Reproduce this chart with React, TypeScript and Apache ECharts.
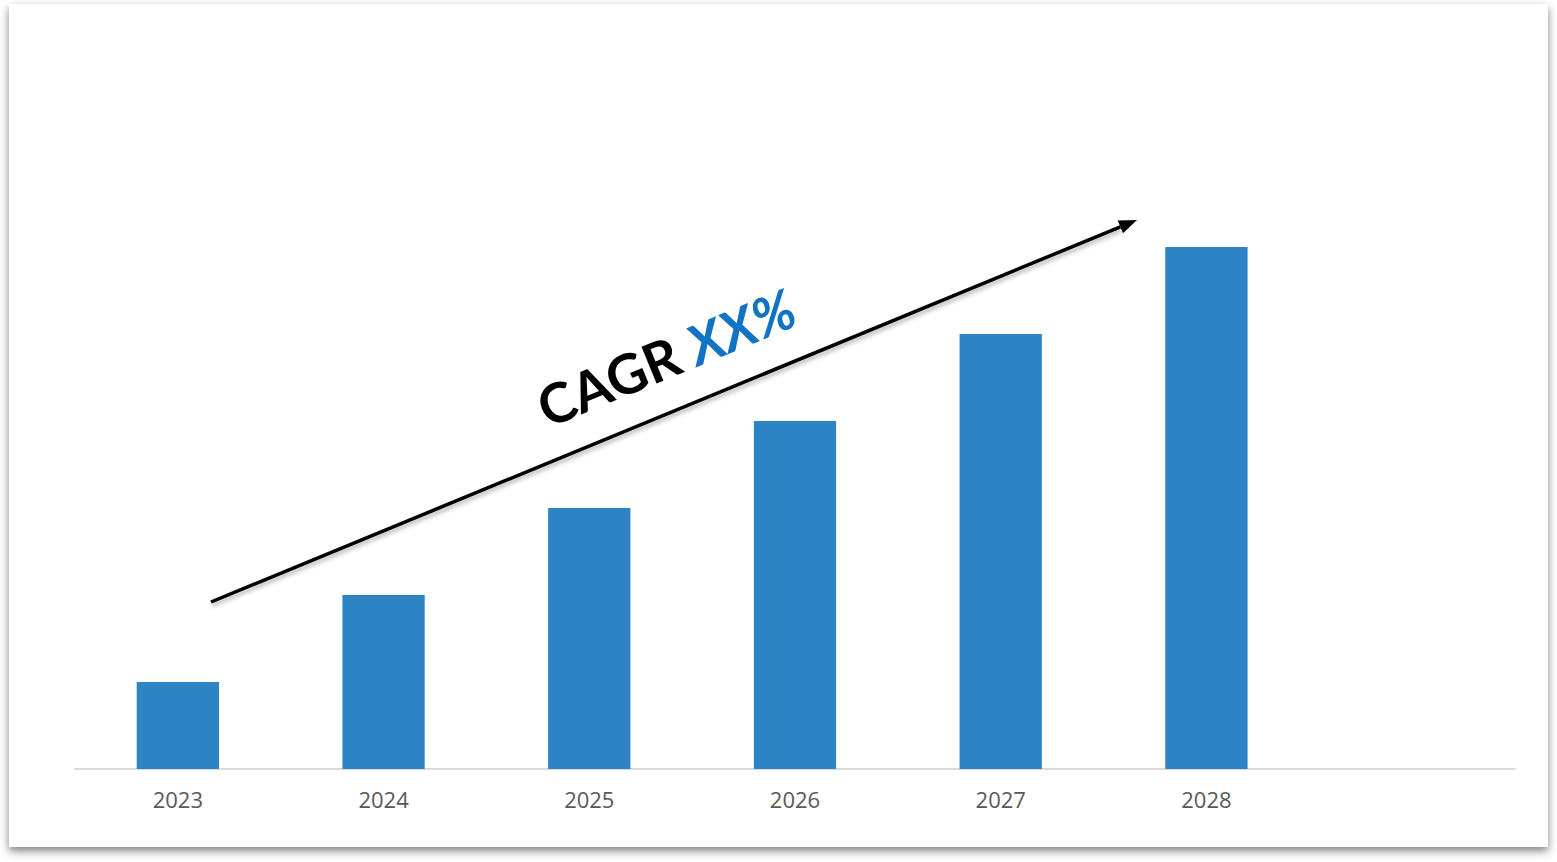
import React, { useEffect, useRef } from "react";
import * as echarts from "echarts";

const categories = ["2023", "2024", "2025", "2026", "2027", "2028", ""];
const values = [1, 2, 3, 4, 5, 6, null];
const cagrLabel = "CAGR";
const cagrValue = "XX%";

export default function App() {
  const ref = useRef<HTMLDivElement>(null);
  useEffect(() => {
    if (!ref.current) return;
    const chart = echarts.init(ref.current, null, { renderer: "svg" });
    const tip = [1137, 220];
    const start = [211, 602];
    const dx = tip[0] - start[0];
    const dy = tip[1] - start[1];
    const len = Math.sqrt(dx * dx + dy * dy);
    const ux = dx / len, uy = dy / len;
    const nx = -uy, ny = ux;
    const aL = 18, aW = 7;
    const bx = tip[0] - aL * ux, by = tip[1] - aL * uy;
    const angle = Math.atan2(-dy, dx);
    chart.setOption({
      animation: false,
      backgroundColor: "#ffffff",
      graphic: [
        {
          type: "rect",
          z: -10,
          silent: true,
          shape: { x: 9, y: 4, width: 1539, height: 843 },
          style: {
            fill: "#ffffff",
            shadowBlur: 8,
            shadowOffsetY: 4,
            shadowOffsetX: 0,
            shadowColor: "rgba(0,0,0,0.5)",
          },
        },
        {
          type: "line",
          z: 10,
          shape: { x1: start[0], y1: start[1], x2: bx, y2: by },
          style: {
            stroke: "#000000",
            lineWidth: 3.5,
            shadowBlur: 4,
            shadowOffsetY: 3,
            shadowOffsetX: 1,
            shadowColor: "rgba(0,0,0,0.3)",
          },
        },
        {
          type: "polygon",
          z: 10,
          shape: {
            points: [
              [tip[0], tip[1]],
              [bx + aW * nx, by + aW * ny],
              [bx - aW * nx, by - aW * ny],
            ],
          },
          style: { fill: "#000000" },
        },
        {
          type: "text",
          z: 10,
          x: 666,
          y: 357,
          rotation: angle,
          style: {
            text: "{a|" + cagrLabel + "\u00a0}{b|" + cagrValue + "}",
            align: "center",
            verticalAlign: "middle",
            rich: {
              a: {
                fontFamily: "Lato, 'Noto Sans', sans-serif",
                fontWeight: "bold",
                fontSize: 55,
                fill: "#000000",
              },
              b: {
                fontFamily: "Lato, 'Noto Sans', sans-serif",
                fontWeight: "bold",
                fontStyle: "italic",
                fontSize: 55,
                fill: "#1272c4",
              },
            },
          },
        },
      ],
      grid: { left: 75, right: 42, top: 73, bottom: 93, containLabel: false },
      xAxis: {
        type: "category",
        data: categories,
        axisLine: { lineStyle: { color: "#d9d9d9", width: 2 } },
        axisTick: { show: false },
        axisLabel: {
          color: "#595959",
          fontSize: 22,
          fontFamily: "'Open Sans', 'Noto Sans', sans-serif",
          margin: 19,
        },
      },
      yAxis: {
        type: "value",
        min: 0,
        max: 8,
        show: false,
        splitLine: { show: false },
      },
      series: [
        {
          type: "bar",
          data: values,
          barWidth: "40%",
          itemStyle: { color: "#2e83c4" },
        },
      ],
    });
    return () => chart.dispose();
  }, []);
  return (
    <div
      ref={ref}
      style={{ position: "fixed", left: 0, top: 0, width: 1557, height: 862 }}
    />
  );
}
